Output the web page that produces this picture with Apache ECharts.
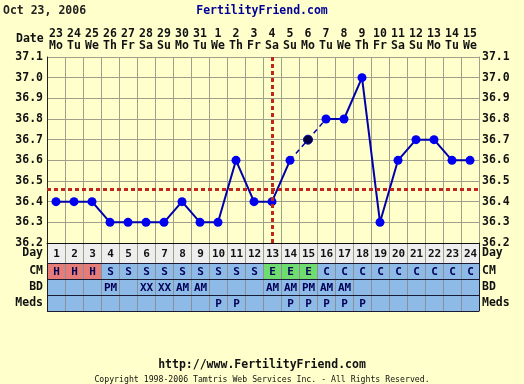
<!DOCTYPE html>
<html><head><meta charset="utf-8">
<script src="https://cdn.jsdelivr.net/npm/echarts@6/dist/echarts.min.js"></script>
<style>html,body{margin:0;padding:0;background:#FFFFCC;}#c{width:524px;height:384px;}</style>
</head><body><div id="c"></div>
<script>
// ---- data ----
const days = ['1','2','3','4','5','6','7','8','9','10','11','12','13','14','15','16','17','18','19','20','21','22','23','24'];
const dates = ['23','24','25','26','27','28','29','30','31','1','2','3','4','5','6','7','8','9','10','11','12','13','14','15'];
const weekdays = ['Mo','Tu','We','Th','Fr','Sa','Su','Mo','Tu','We','Th','Fr','Sa','Su','Mo','Tu','We','Th','Fr','Sa','Su','Mo','Tu','We'];
const temps = [36.4,36.4,36.4,36.3,36.3,36.3,36.3,36.4,36.3,36.3,36.6,36.4,36.4,36.6,36.7,36.8,36.8,37.0,36.3,36.6,36.7,36.7,36.6,36.6];
const dashedDays = [14,15,16];
const darkPointDays = [15];
const coverline = 36.46;
const ovulationDay = '13';
const yTicks = ['36.2','36.3','36.4','36.5','36.6','36.7','36.8','36.9','37.0','37.1'];
const cm = ['H','H','H','S','S','S','S','S','S','S','S','S','E','E','E','C','C','C','C','C','C','C','C','C'];
const bd = ['','','','PM','','XX','XX','AM','AM','','','','AM','AM','PM','AM','AM','','','','','','',''];
const meds = ['','','','','','','','','','P','P','','','P','P','P','P','P','','','','','',''];
const tableRows = ['CM','BD','Meds'];

// ---- styles ----
const FONT = 'DejaVu Sans Mono';
const cmColor = {H:'#E57C78', E:'#6EDC6E'};
const cellBlue = '#8EBAE8';

const solidData = temps.map((t,i)=> (dashedDays.includes(i+1) && !(i+1===dashedDays[0]||i+1===dashedDays[dashedDays.length-1])) ? null : t);
const dashedData = temps.map((t,i)=> dashedDays.includes(i+1) ? {
  value:t,
  symbol: darkPointDays.includes(i+1) ? 'circle' : 'none',
  itemStyle:{color:'#000040', borderColor:'#0000AA', borderWidth:1}
} : null);

function tableSeries(xi, yi, rows, fillFn, textColor){
  const items = [];
  rows.forEach((arr, r) => arr.forEach((txt, i) => items.push({v:[i,r], txt, fill: fillFn(r, txt)})));
  return {
    type:'custom', xAxisIndex:xi, yAxisIndex:yi, silent:true, z:1,
    data: items.map(o=>o.v),
    encode:{x:0,y:1},
    renderItem:(params, api)=>{
      const o = items[params.dataIndex];
      const c = api.coord([api.value(0), api.value(1)]);
      const s = api.size([1,1]);
      return {type:'group', children:[
        {type:'rect', shape:{x:c[0]-s[0]/2, y:c[1]-s[1]/2, width:s[0], height:s[1]}, style:{fill:o.fill}},
        {type:'text', style:{text:o.txt, x:c[0]+0.5, y:c[1]+1, align:'center', verticalAlign:'middle', font:'bold 11px "'+FONT+'"', fill:textColor}}
      ]};
    }
  };
}

const labelFont = {fontFamily:FONT, fontWeight:'bold', fontSize:11.5, color:'#111'};

const chart = echarts.init(document.getElementById('c'), null, {renderer:'canvas'});
chart.setOption({
  backgroundColor:'#FFFFCC',
  animation:false,
  title:[
    {text:'Oct 23, 2006', left:3, top:5, padding:0, textStyle:{fontFamily:FONT, fontWeight:'bold', fontSize:11.5, color:'#222'}},
    {text:'FertilityFriend.com', left:'center', top:5, padding:0, textStyle:{fontFamily:FONT, fontWeight:'bold', fontSize:11.5, color:'#000099'}},
    {text:'http://www.FertilityFriend.com', left:'center', top:359, padding:0, textStyle:{fontFamily:FONT, fontWeight:'bold', fontSize:11.5, color:'#111'}},
    {text:'Copyright 1998-2006 Tamtris Web Services Inc. - All Rights Reserved.', left:'center', top:376, padding:0, textStyle:{fontFamily:FONT, fontWeight:'normal', fontSize:8.2, color:'#111'}}
  ],
  graphic:[{type:'text', left:16, top:33, style:{text:'Date', font:'bold 11.5px "'+FONT+'"', fill:'#111'}}],
  grid:[
    {left:47, top:57, width:432, height:186, show:true, backgroundColor:'#FFFFCC', borderWidth:0},
    {left:47, top:243, width:432, height:20, show:true, backgroundColor:'#EEEEEE', borderWidth:0},
    {left:47, top:263, width:432, height:48, show:false}
  ],
  xAxis:[
    {type:'category', gridIndex:0, data:days, position:'top', boundaryGap:true,
     axisLine:{show:false}, axisTick:{show:false},
     splitLine:{show:true, interval:0, lineStyle:{color:'#A09F8C', width:1}},
     axisLabel:{interval:0, margin:5, lineHeight:12, ...labelFont, formatter:(v,i)=>dates[i]+'\n'+weekdays[i]}},
    {type:'category', gridIndex:1, data:days, position:'top', boundaryGap:true, z:5,
     axisLine:{show:true, lineStyle:{color:'#111', width:1}}, axisTick:{show:false}, axisLabel:{show:false},
     splitLine:{show:true, interval:0, lineStyle:{color:'#A09F8C'}}},
    {type:'category', gridIndex:2, data:days, position:'top', boundaryGap:true, z:5,
     axisLine:{show:false}, axisTick:{show:false}, axisLabel:{show:false},
     splitLine:{show:true, interval:0, lineStyle:{color:'#8A8F9A'}}}
  ],
  yAxis:[
    {type:'value', gridIndex:0, min:36.2, max:37.1, interval:0.1, position:'left',
     axisLine:{show:true, lineStyle:{color:'#222'}}, axisTick:{show:false},
     splitLine:{show:true, lineStyle:{color:'#A09F8C'}},
     axisLabel:{margin:4, ...labelFont, formatter:v=>yTicks[Math.round((v-36.2)*10)]}},
    {type:'value', gridIndex:0, min:36.2, max:37.1, interval:0.1, position:'right',
     axisLine:{show:true, lineStyle:{color:'#A09F8C'}}, axisTick:{show:false}, splitLine:{show:false},
     axisLabel:{margin:3, ...labelFont, formatter:v=>yTicks[Math.round((v-36.2)*10)]}},
    {type:'category', gridIndex:1, data:['Day'], position:'left', z:5,
     axisLine:{show:true, lineStyle:{color:'#222'}}, axisTick:{show:false}, splitLine:{show:false},
     axisLabel:{margin:4, ...labelFont}},
    {type:'category', gridIndex:1, data:['Day'], position:'right', z:5,
     axisLine:{show:true, lineStyle:{color:'#222'}}, axisTick:{show:false}, splitLine:{show:false},
     axisLabel:{margin:3, ...labelFont}},
    {type:'category', gridIndex:2, data:tableRows, inverse:true, position:'left', z:6,
     axisLine:{show:true, lineStyle:{color:'#1a1a33'}}, axisTick:{show:false},
     splitLine:{show:true, interval:0, lineStyle:{color:'#1a1a33', width:1}},
     axisLabel:{margin:4, ...labelFont}},
    {type:'category', gridIndex:2, data:tableRows, inverse:true, position:'right', z:6,
     axisLine:{show:true, lineStyle:{color:'#1a1a33'}}, axisTick:{show:false}, splitLine:{show:false},
     axisLabel:{margin:3, ...labelFont}}
  ],
  series:[
    {type:'line', xAxisIndex:0, yAxisIndex:0, data:solidData, z:3,
     symbol:'circle', symbolSize:9, showAllSymbol:true,
     lineStyle:{color:'#0000AA', width:2}, itemStyle:{color:'#0000EE'},
     markLine:{silent:true, symbol:'none', label:{show:false},
       lineStyle:{color:'#C0261E', width:3, type:[4,3]},
       data:[{yAxis:coverline}, {xAxis:ovulationDay}]}},
    {type:'line', xAxisIndex:0, yAxisIndex:0, data:dashedData, z:2,
     symbolSize:9, lineStyle:{color:'#0000AA', width:1.5, type:[5,4]}, itemStyle:{color:'#000040'}},
    tableSeries(1, 2, [days], ()=> '#EEEEEE', '#111'),
    tableSeries(2, 4, [cm, bd, meds], (r, t)=> (r===0 && cmColor[t]) ? cmColor[t] : cellBlue, '#000055')
  ]
});
</script>
</body></html>
